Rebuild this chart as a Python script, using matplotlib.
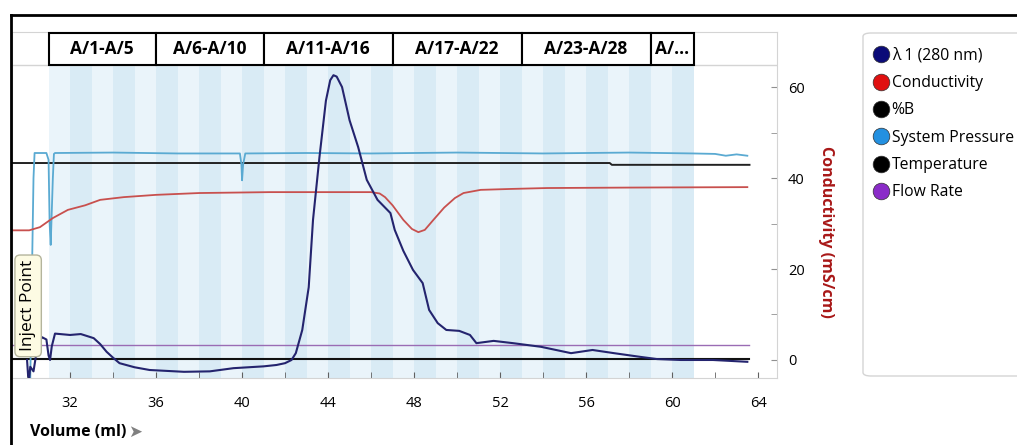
import matplotlib.pyplot as plt
from matplotlib.lines import Line2D
from matplotlib.patches import Rectangle, FancyBboxPatch

plt.rcParams['font.family'] = ['Open Sans', 'DejaVu Sans']

# Chromatogram traces (volume in ml, value on conductivity scale)
uv_vol = [30.0, 30.05, 30.1, 30.15, 30.3, 30.5, 30.7, 30.9, 31.0, 31.07, 31.15, 31.3,
          32.0, 32.5, 33.1, 33.4, 33.7, 34.0, 34.3, 35.0, 35.7, 37.3, 38.5, 39.6,
          41.0, 41.6, 42.0, 42.3, 42.5, 42.8, 43.1, 43.3, 43.6, 43.9, 44.1, 44.25,
          44.4, 44.65, 45.0, 45.4, 45.8, 46.3, 46.9, 47.1, 47.5, 47.95, 48.4, 48.7,
          49.1, 49.5, 50.1, 50.6, 50.9, 51.7, 52.6, 53.9, 55.3, 56.3, 57.3, 58.5,
          59.3, 60.4, 61.9, 63.5]
uv_val = [0, -3.5, -4, -1.5, -2.5, 3.5, 5, 4.5, 1, 0, 3, 5.8,
          5.5, 5.7, 4.8, 3.5, 1.8, 0.5, -0.7, -1.6, -2.2, -2.6, -2.5, -1.8,
          -1.4, -1.1, -0.7, 0, 1.5, 6.6, 16, 30.8, 44.6, 57, 61.5, 62.6,
          62.3, 60, 52.7, 46.8, 39.6, 35.2, 32.3, 28.6, 24, 19.8, 16.9, 11,
          8.1, 6.6, 6.4, 5.5, 3.7, 4.2, 3.7, 2.9, 1.5, 2.2, 1.5, 0.7,
          0.2, 0.0, 0.0, -0.4]

cond_vol = [29.3, 30.1, 30.6, 31.2, 31.9, 32.7, 33.4, 34.5, 36, 38, 41.3, 46.0, 46.4,
            46.65, 47.0, 47.5, 47.9, 48.2, 48.5, 48.9, 49.4, 49.9, 50.3, 51.1, 52.5,
            54.2, 58, 63.5]
cond_val = [28.5, 28.5, 29.2, 31.2, 33, 34, 35.2, 35.8, 36.3, 36.7, 36.9, 36.9, 36.6,
            35.8, 34, 30.8, 28.8, 28.1, 28.6, 30.8, 33.5, 35.6, 36.7, 37.4, 37.6,
            37.8, 37.9, 38]

pb_vol = [29.3, 57.1, 57.2, 63.6]
pb_val = [43.3, 43.3, 42.9, 42.9]

pres_vol = [30.15, 30.3, 30.35, 30.9, 31.0, 31.05, 31.1, 31.2, 31.25, 31.3, 34, 37,
            39.9, 39.97, 40.0, 40.05, 40.15, 43, 46, 50, 54, 58, 61, 62, 62.5, 63, 63.5]
pres_val = [-4, 40, 45.5, 45.5, 44, 30, 25.3, 40, 45.3, 45.5, 45.6, 45.4,
            45.4, 43, 39.5, 43, 45.4, 45.5, 45.4, 45.6, 45.4, 45.6, 45.4, 45.3, 44.9, 45.2, 44.9]

temp_vol = [29.3, 63.6]
temp_val = [0.2, 0.2]

flow_vol = [29.3, 63.6]
flow_val = [3.3, 3.3]

# Fraction groups
frac_start = [31, 36, 41, 47, 53, 59]
frac_end = [36, 41, 47, 53, 59, 61]
frac_labels = ['A/1-A/5', 'A/6-A/10', 'A/11-A/16', 'A/17-A/22', 'A/23-A/28', 'A/...']

series_names = ['λ 1 (280 nm)', 'Conductivity', '%B', 'System Pressure', 'Temperature', 'Flow Rate']
marker_colors = ['#0b0b78', '#e01010', '#000000', '#2390e0', '#000000', '#8a2bc8']

xmin, xmax = 29.3, 64.88
ymin, ymax = -3.96, 72.1
head_lo = 64.8

fig = plt.figure(figsize=(10.17, 4.45), dpi=100)
ax = fig.add_axes([12 / 1017, 67 / 445, 765 / 1017, 346 / 445])
ax.set_xlim(xmin, xmax)
ax.set_ylim(ymin, ymax)

# Fraction stripes
for i, v in enumerate(range(frac_start[0], frac_end[-1])):
    c = '#eaf4fa' if i % 2 == 0 else '#d9ebf5'
    ax.axvspan(v, v + 1, ymin=0, ymax=(head_lo - ymin) / (ymax - ymin), color=c, lw=0, zorder=0)

ax.axhline(head_lo, color='#d4d4d4', lw=1, zorder=1)

# Fraction header boxes
for s, e, lab in zip(frac_start, frac_end, frac_labels):
    ax.add_patch(Rectangle((s, head_lo), e - s, 71.85 - head_lo, fc='white', ec='black',
                           lw=1.5, clip_on=False, zorder=5))
    ax.text((s + e) / 2, (head_lo + 71.85) / 2, lab, ha='center', va='center',
            fontsize=12.5, fontweight='bold', zorder=6)

ax.plot(flow_vol, flow_val, color='#9a6cb4', lw=1.0, zorder=3)
ax.plot(temp_vol, temp_val, color='#111111', lw=1.5, zorder=3)
ax.plot(pb_vol, pb_val, color='#222222', lw=1.4, zorder=3)
ax.plot(pres_vol, pres_val, color='#5aaad2', lw=1.3, zorder=3)
ax.plot(cond_vol, cond_val, color='#c8504e', lw=1.3, zorder=3)
ax.plot(uv_vol, uv_val, color='#24246e', lw=1.5, zorder=4)

# Inject point marker
ax.text(30.05, 11.9, 'Inject Point', rotation=90, ha='center', va='center', fontsize=12.5,
        zorder=7, bbox=dict(boxstyle='round,pad=0.3,rounding_size=0.3', fc='#fdfbe3', ec='#b4b49c', lw=1))

# Axes styling
for sp in ax.spines.values():
    sp.set_color('#d4d4d4')
ax.set_xticks([32, 36, 40, 44, 48, 52, 56, 60, 64])
ax.set_xticks([30, 34, 38, 42, 46, 50, 54, 58, 62], minor=True)
ax.tick_params(axis='x', which='both', direction='in', length=4, color='#606060', labelsize=10.5, pad=13)
ax.yaxis.tick_right()
ax.set_yticks([0, 20, 40, 60])
ax.set_yticks([10, 30, 50], minor=True)
ax.tick_params(axis='y', which='both', direction='in', length=4, color='#909090', labelsize=10.5, pad=8)

fig.text(826 / 1017, 1 - 232 / 445, 'Conductivity (mS/cm)', rotation=-90, ha='center', va='center',
         color='#a81818', fontsize=11.5, fontweight='bold')

fig.text(30 / 1017, 1 - 432 / 445, 'Volume (ml)', ha='left', va='center', fontsize=11.5, fontweight='bold')
fig.text(128 / 1017, 1 - 432 / 445, '➤', ha='left', va='center', fontsize=12, color='#808080',
         family=['DejaVu Sans'])

# Legend panel
fig.add_artist(FancyBboxPatch((863 / 1017, 69 / 445), 170 / 1017, 343 / 445,
                              boxstyle='round,pad=0,rounding_size=0.008', transform=fig.transFigure,
                              fc='white', ec='#d4d4d4', lw=1))
handles = [Line2D([], [], ls='none', marker='o', markersize=12, markerfacecolor=c,
                  markeredgecolor='#303030', markeredgewidth=0.5) for c in marker_colors]
fig.legend(handles, series_names, loc='upper left', bbox_to_anchor=(865 / 1017, 1 - 40 / 445),
           frameon=False, fontsize=11.3, handletextpad=0.2, labelspacing=0.72, borderpad=0,
           handlelength=1.0)

# Outer frame
fig.add_artist(Line2D([11 / 1017, 1], [1 - 15 / 445, 1 - 15 / 445], transform=fig.transFigure,
                      color='black', lw=2))
fig.add_artist(Line2D([11 / 1017, 11 / 1017], [0, 1 - 15 / 445], transform=fig.transFigure,
                      color='black', lw=2))

fig.savefig('out.png', dpi=100)
